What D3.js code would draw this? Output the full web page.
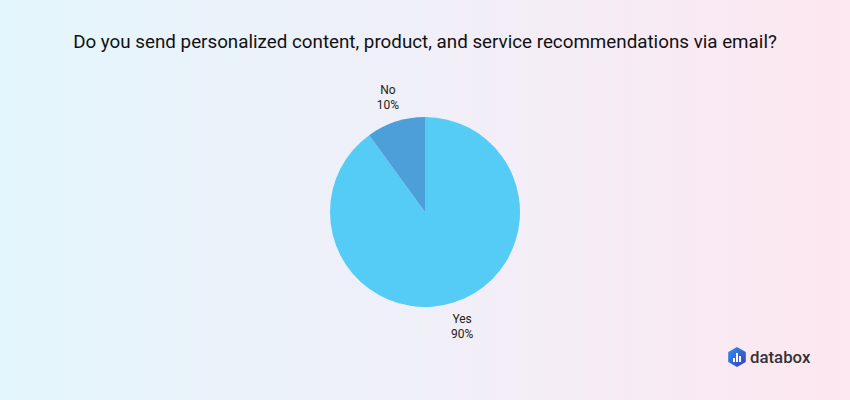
<!DOCTYPE html>
<html><head><meta charset="utf-8">
<script src="https://cdn.jsdelivr.net/npm/d3@7"></script>
<style>html,body{margin:0;padding:0;}svg{display:block;}</style>
</head><body>
<script>
const categories = ["Yes", "No"];
const values = [90, 10];
const labels = ["90%", "10%"];
const colors = ["#55ccf6", "#4d9fda"];
const title = "Do you send personalized content, product, and service recommendations via email?";

const W = 850, H = 400;
const svg = d3.select("body").append("svg").attr("width", W).attr("height", H);
const defs = svg.append("defs");
const bg = defs.append("linearGradient").attr("id", "bg").attr("x1", "0").attr("x2", "1").attr("y1", "0").attr("y2", "0");
bg.append("stop").attr("offset", "0").attr("stop-color", "#e4f6fd");
bg.append("stop").attr("offset", "0.5").attr("stop-color", "#f0eff8");
bg.append("stop").attr("offset", "1").attr("stop-color", "#fde7f0");
svg.append("rect").attr("width", W).attr("height", H).attr("fill", "url(#bg)");

svg.append("text").attr("x", 425).attr("y", 48).attr("text-anchor", "middle")
  .attr("font-family", "Roboto").attr("font-size", 18.8).attr("fill", "#111").text(title);

const cx = 425, cy = 212, r = 95;
const g = svg.append("g").attr("transform", `translate(${cx},${cy})`);
const data = categories.map((c, i) => ({ c, v: values[i], l: labels[i], col: colors[i] }));
const pie = d3.pie().value(d => d.v).sort(null);
const arc = d3.arc().innerRadius(0).outerRadius(r);
const labelArc = d3.arc().innerRadius(120).outerRadius(120);
const arcs = pie(data);
g.selectAll("path").data(arcs).join("path").attr("d", arc).attr("fill", d => d.data.col);

const lg = g.selectAll("g.lab").data(arcs).join("g").attr("class", "lab")
  .attr("transform", d => { const [x, y] = labelArc.centroid(d); return `translate(${x},${y})`; });
lg.append("text").attr("text-anchor", "middle").attr("y", -3.5)
  .attr("font-family", "Roboto").attr("font-size", 12).attr("fill", "#222").text(d => d.data.c);
lg.append("text").attr("text-anchor", "middle").attr("y", 11.5)
  .attr("font-family", "Roboto").attr("font-size", 12).attr("fill", "#222").text(d => d.data.l);

// logo
const lgr = defs.append("linearGradient").attr("id", "logo").attr("x1", "0").attr("x2", "1").attr("y1", "0").attr("y2", "1");
lgr.append("stop").attr("offset", "0").attr("stop-color", "#2f8ff0");
lgr.append("stop").attr("offset", "1").attr("stop-color", "#3b3fb8");
const logo = svg.append("g").attr("transform", "translate(737,357)");
const hex = d3.range(6).map(i => { const a = Math.PI / 3 * i - Math.PI / 2; return [9 * Math.cos(a), 9 * Math.sin(a)]; });
logo.append("path").attr("d", "M" + hex.join("L") + "Z").attr("fill", "url(#logo)").attr("stroke", "url(#logo)").attr("stroke-width", 2).attr("stroke-linejoin", "round");
[[-4, 1, 4], [-1, -4, 9], [2, -1, 6]].forEach(([x, y, h]) => logo.append("rect").attr("x", x).attr("y", y).attr("width", 2).attr("height", h).attr("fill", "#fff"));
svg.append("text").attr("x", 750).attr("y", 363).attr("font-family", "Roboto").attr("font-weight", 500)
  .attr("font-size", 16.8).attr("fill", "#333").text("databox");
</script>
</body></html>
